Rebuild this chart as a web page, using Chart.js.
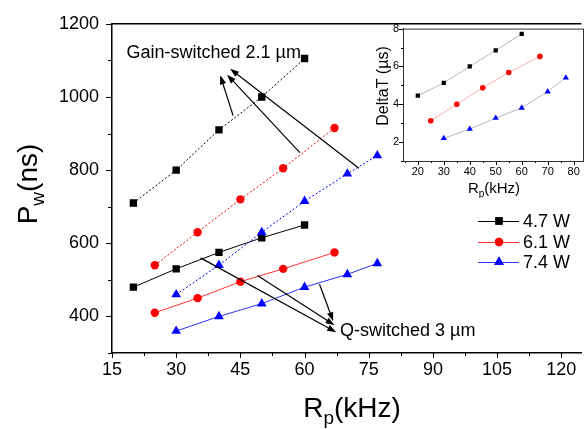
<!DOCTYPE html>
<html>
<head>
<meta charset="utf-8">
<script src="https://cdn.jsdelivr.net/npm/chart.js@4/dist/chart.umd.min.js"></script>
<style>
  html, body { margin: 0; padding: 0; background: #fff; overflow: hidden; }
  #wrap { position: relative; width: 587px; height: 429px; }
  #main { position: absolute; left: 0; top: 0; }
  #inset { position: absolute; left: 360px; top: 18px; }
</style>
</head>
<body>
<div id="wrap">
  <canvas id="main" width="587" height="429"></canvas>
  <canvas id="inset" width="227" height="180"></canvas>
</div>
<script>
// repetition rate (kHz) for each pump power
const freq47 = [20, 30, 40, 50, 60];
const freq61 = [25, 35, 45, 55, 67];
const freq74 = [30, 40, 50, 60, 70, 77];

// pulse width (ns), gain-switched 2.1 um
const pwGain47 = [710, 800, 910, 1000, 1105];
const pwGain61 = [540, 630, 720, 805, 915];
const pwGain74 = [460, 540, 630, 715, 790, 840];

// pulse width (ns), Q-switched 3 um
const pwQ47 = [480, 530, 575, 615, 650];
const pwQ61 = [410, 450, 495, 530, 575];
const pwQ74 = [360, 400, 435, 480, 515, 545];

// inset: delay DeltaT (us)
const dt47 = [4.45, 5.13, 6.0, 6.85, 7.72];
const dt61 = [3.13, 4.0, 4.87, 5.68, 6.53];
const dt74 = [2.2, 2.69, 3.27, 3.81, 4.67, 5.4];

const legendLabels = ["4.7 W", "6.1 W", "7.4 W"];
const mainXTicks = [15, 30, 45, 60, 75, 90, 105, 120];
const mainYTicks = [400, 600, 800, 1000, 1200];
const insetXTicks = [20, 30, 40, 50, 60, 70, 80];
const insetYTicks = [2, 4, 6, 8];

const FONT = "'Liberation Sans', Arial, sans-serif";

function pts(xs, ys) {
  return xs.map((x, i) => ({ x: x, y: ys[i] }));
}

function drawTicks(chart, xs, ys, lenX, lenY) {
  const { ctx, chartArea, scales } = chart;
  ctx.save();
  ctx.strokeStyle = "#000";
  ctx.lineWidth = 1;
  ctx.beginPath();
  xs.forEach(([v, major]) => {
    const px = Math.round(scales.x.getPixelForValue(v)) + 0.5;
    ctx.moveTo(px, chartArea.bottom);
    ctx.lineTo(px, chartArea.bottom + (major ? lenX[0] : lenX[1]));
  });
  ys.forEach(([v, major]) => {
    const py = Math.round(scales.y.getPixelForValue(v)) + 0.5;
    ctx.moveTo(chartArea.left, py);
    ctx.lineTo(chartArea.left - (major ? lenY[0] : lenY[1]), py);
  });
  ctx.stroke();
  ctx.restore();
}

// text with one subscript: [before, sub, after]
function subText(ctx, parts, size, subSize, x, y, rotate) {
  ctx.save();
  ctx.translate(x, y);
  if (rotate) ctx.rotate(-Math.PI / 2);
  ctx.fillStyle = "#000";
  ctx.textBaseline = "alphabetic";
  ctx.font = size + "px " + FONT;
  const w1 = ctx.measureText(parts[0]).width;
  const w3 = ctx.measureText(parts[2]).width;
  ctx.font = subSize + "px " + FONT;
  const w2 = ctx.measureText(parts[1]).width;
  let cx = -(w1 + w2 + w3) / 2;
  ctx.font = size + "px " + FONT;
  ctx.fillText(parts[0], cx, 0);
  cx += w1;
  ctx.font = subSize + "px " + FONT;
  ctx.fillText(parts[1], cx, size * 0.25);
  cx += w2;
  ctx.font = size + "px " + FONT;
  ctx.fillText(parts[2], cx, 0);
  ctx.restore();
}

function arrow(ctx, x1, y1, x2, y2) {
  const a = Math.atan2(y2 - y1, x2 - x1);
  const len = 9, half = 3.2;
  ctx.beginPath();
  ctx.moveTo(x1, y1);
  ctx.lineTo(x2 - Math.cos(a) * len * 0.8, y2 - Math.sin(a) * len * 0.8);
  ctx.stroke();
  ctx.beginPath();
  ctx.moveTo(x2, y2);
  ctx.lineTo(x2 - Math.cos(a) * len - Math.sin(a) * half, y2 - Math.sin(a) * len + Math.cos(a) * half);
  ctx.lineTo(x2 - Math.cos(a) * len + Math.sin(a) * half, y2 - Math.sin(a) * len - Math.cos(a) * half);
  ctx.closePath();
  ctx.fill();
}

// arrows given in data units: [xTail, yTail, xHead, yHead]
const gainArrows = [[43.3, 949, 40.3, 1059], [58.9, 848, 41.9, 1061], [72.7, 805, 42.6, 1077]];
const qArrows = [[35.7, 560, 67.4, 357], [49.0, 512, 67.0, 376], [63.5, 488, 66.7, 387]];

const mainDecor = {
  id: "mainDecor",
  afterDraw(chart) {
    const { ctx, chartArea, scales } = chart;
    const X = (v) => scales.x.getPixelForValue(v);
    const Y = (v) => scales.y.getPixelForValue(v);

    const xt = [];
    for (let v = 15; v <= 124; v += 7.5) xt.push([v, (v - 15) % 15 === 0]);
    const yt = [];
    for (let v = 300; v <= 1200; v += 100) yt.push([v, v % 200 === 0]);
    drawTicks(chart, xt, yt, [5, 3], [6, 4]);

    // top frame line
    ctx.save();
    ctx.strokeStyle = "#000";
    ctx.lineWidth = 1.5;
    ctx.beginPath();
    ctx.moveTo(chartArea.left, chartArea.top);
    ctx.lineTo(chartArea.right, chartArea.top);
    ctx.stroke();

    // annotations
    ctx.lineWidth = 1.2;
    ctx.strokeStyle = "#000";
    ctx.fillStyle = "#000";
    gainArrows.concat(qArrows).forEach((a) => arrow(ctx, X(a[0]), Y(a[1]), X(a[2]), Y(a[3])));
    ctx.font = "18px " + FONT;
    ctx.textBaseline = "middle";
    ctx.textAlign = "left";
    ctx.fillText("Gain-switched 2.1 \u00b5m", X(18.4), Y(1120));
    ctx.fillText("Q-switched 3 \u00b5m", X(68.3), Y(360));

    // legend
    const rows = [221, 242, 262];
    const sets = chart.data.datasets.slice(3);
    rows.forEach((ry, i) => {
      const ds = sets[i];
      ctx.strokeStyle = ds.borderColor;
      ctx.lineWidth = 1;
      ctx.beginPath();
      ctx.moveTo(478, ry + 0.5);
      ctx.lineTo(519, ry + 0.5);
      ctx.stroke();
      ctx.fillStyle = ds.pointBackgroundColor;
      Chart.helpers.drawPoint(ctx, { pointStyle: ds.pointStyle, radius: ds.pointRadius, borderWidth: 0 }, 499, ry);
      ctx.fill();
      ctx.fillStyle = "#000";
      ctx.fillText(legendLabels[i], 523, ry + 1);
    });
    ctx.restore();

    // axis titles
    subText(ctx, ["P", "w", "(ns)"], 28, 19, 37, 184, true);
    subText(ctx, ["R", "p", "(kHz)"], 28, 19, 352, 417, false);
  }
};

function series(xs, ys, color, line, style, r, dashed) {
  return {
    data: pts(xs, ys),
    borderColor: line,
    borderWidth: 1,
    borderDash: dashed ? [2, 2] : [],
    pointStyle: style,
    pointRadius: r,
    pointBackgroundColor: color,
    pointBorderColor: color,
    pointBorderWidth: 0,
    showLine: true,
    tension: 0
  };
}

const plain = (v) => String(v);

new Chart(document.getElementById("main").getContext("2d"), {
  type: "scatter",
  data: {
    datasets: [
      series(freq47, pwGain47, "#000", "#000", "rect", 5.2, true),
      series(freq61, pwGain61, "#ff0000", "#ff0000", "circle", 4.2, true),
      series(freq74, pwGain74, "#0000ff", "#0000ff", "triangle", 5.6, true),
      series(freq47, pwQ47, "#000", "#000", "rect", 5.2, false),
      series(freq61, pwQ61, "#ff0000", "#ff3030", "circle", 4.2, false),
      series(freq74, pwQ74, "#0000ff", "#3030ff", "triangle", 5.6, false)
    ]
  },
  options: {
    responsive: false,
    animation: false,
    layout: { padding: { top: 15, right: 0, left: 0, bottom: 0 } },
    plugins: { legend: { display: false }, tooltip: { enabled: false } },
    scales: {
      x: {
        type: "linear",
        min: 15,
        max: 124.7,
        afterBuildTicks: (s) => { s.ticks = mainXTicks.map((v) => ({ value: v })); },
        afterFit: (s) => { s.height = 76; },
        ticks: { font: { family: FONT, size: 18 }, color: "#000", padding: 6, maxRotation: 0, autoSkip: false, callback: plain },
        grid: { display: true, drawOnChartArea: false, drawTicks: false },
        border: { color: "#000", width: 1.5 }
      },
      y: {
        min: 300,
        max: 1200,
        afterBuildTicks: (s) => { s.ticks = mainYTicks.map((v) => ({ value: v })); },
        afterFit: (s) => { s.width = 112; },
        ticks: { font: { family: FONT, size: 18 }, color: "#000", padding: 13, callback: plain },
        grid: { display: true, drawOnChartArea: false, drawTicks: false },
        border: { color: "#000", width: 1.5 }
      }
    }
  },
  plugins: [mainDecor]
});

const insetDecor = {
  id: "insetDecor",
  afterDraw(chart) {
    const { ctx, chartArea } = chart;
    const xt = [];
    for (let v = 15; v <= 80; v += 5) xt.push([v, v % 10 === 0]);
    const yt = [];
    for (let v = 1; v <= 8; v += 1) yt.push([v, v % 2 === 0]);
    drawTicks(chart, xt, yt, [4, 2], [4, 2]);
    ctx.save();
    ctx.strokeStyle = "#333";
    ctx.lineWidth = 1;
    ctx.strokeRect(chartArea.left + 0.5, chartArea.top + 0.5, chartArea.right - chartArea.left, chartArea.bottom - chartArea.top);
    ctx.restore();
    subText(ctx, ["DeltaT (\u00b5s)", "", ""], 16, 11, 28, 68, true);
    subText(ctx, ["R", "p", "(kHz)"], 15, 10, 134, 175, false);
  }
};

new Chart(document.getElementById("inset").getContext("2d"), {
  type: "scatter",
  data: {
    datasets: [
      series(freq47, dt47, "#000", "#b8b8b8", "rect", 3, false),
      series(freq61, dt61, "#ff0000", "#ffb0b0", "circle", 2.8, false),
      series(freq74, dt74, "#0000ff", "#b8b8c8", "triangle", 3.6, false)
    ]
  },
  options: {
    responsive: false,
    animation: false,
    layout: { padding: { top: 10, right: 4, left: 0, bottom: 0 } },
    plugins: { legend: { display: false }, tooltip: { enabled: false } },
    scales: {
      x: {
        type: "linear",
        min: 14.3,
        max: 83.6,
        afterBuildTicks: (s) => { s.ticks = insetXTicks.map((v) => ({ value: v })); },
        afterFit: (s) => { s.height = 37; },
        ticks: { font: { family: FONT, size: 11 }, color: "#000", padding: 4, maxRotation: 0, autoSkip: false, callback: plain },
        grid: { display: true, drawOnChartArea: false, drawTicks: false },
        border: { color: "#333", width: 1 }
      },
      y: {
        min: 1,
        max: 8,
        afterBuildTicks: (s) => { s.ticks = insetYTicks.map((v) => ({ value: v })); },
        afterFit: (s) => { s.width = 43; },
        ticks: { font: { family: FONT, size: 11 }, color: "#000", padding: 4, callback: plain },
        grid: { display: true, drawOnChartArea: false, drawTicks: false },
        border: { color: "#333", width: 1 }
      }
    }
  },
  plugins: [insetDecor]
});
</script>
</body>
</html>
